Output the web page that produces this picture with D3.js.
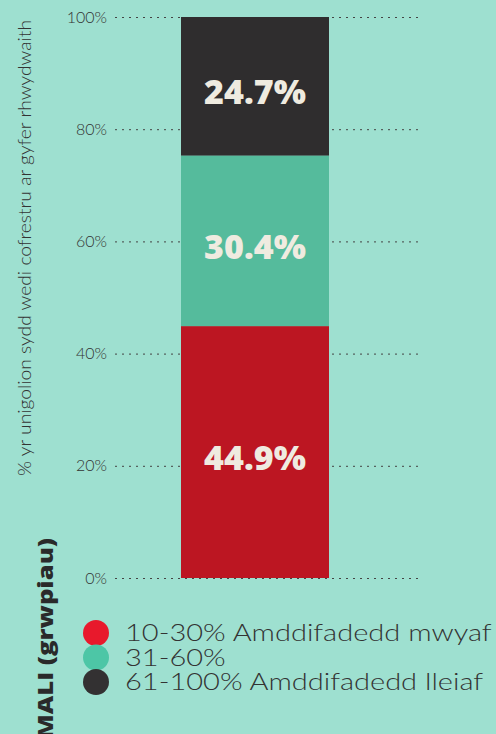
<!DOCTYPE html>
<html lang="cy">
<head>
<meta charset="UTF-8">
<title>MALI (grwpiau)</title>
<script src="https://d3js.org/d3.v7.min.js"></script>
<style>
  body { margin: 0; background: #9ee0d0; }
  svg { display: block; }
  .tick text { font-family: Lato, sans-serif; font-size: 16px; font-weight: 300; fill: #333; }
</style>
</head>
<body>
<svg width="496" height="734"></svg>
<script>
  // data
  const groups = ["10-30% Amddifadedd mwyaf", "31-60%", "61-100% Amddifadedd lleiaf"];
  const values = [44.9, 30.4, 24.7];
  const barColors = ["#bc1622", "#55bb9c", "#2f2d2e"];
  const dotColors = ["#e8192c", "#4dc6a6", "#333132"];
  const yTicks = [0, 20, 40, 60, 80, 100];

  const svg = d3.select("svg");
  const plotTop = 17, plotBottom = 578;
  const gridLeft = 115, gridRight = 421;

  const y = d3.scaleLinear().domain([0, 100]).range([plotBottom, plotTop]);
  const x = d3.scaleBand().domain(["all"]).range([181, 329]).padding(0);

  // gridlines + tick labels
  const axis = svg.append("g")
    .attr("transform", `translate(${gridLeft},0)`)
    .call(d3.axisLeft(y).tickValues(yTicks).tickFormat(d => d + "%").tickSize(0).tickPadding(8));
  axis.select(".domain").remove();
  axis.selectAll(".tick").append("line")
    .attr("x2", gridRight - gridLeft)
    .attr("stroke", "#444")
    .attr("stroke-width", 1)
    .attr("stroke-dasharray", "2,5");

  // stacked segments
  let cum = 0;
  const segs = values.map((v, i) => {
    const s = { v, i, y0: cum, y1: cum + v };
    cum += v;
    return s;
  });

  svg.append("g").selectAll("rect")
    .data(segs)
    .join("rect")
    .attr("x", x("all"))
    .attr("width", x.bandwidth())
    .attr("y", d => y(d.y1))
    .attr("height", d => y(d.y0) - y(d.y1))
    .attr("fill", d => barColors[d.i]);

  svg.append("g").selectAll("text")
    .data(segs)
    .join("text")
    .attr("x", x("all") + x.bandwidth() / 2)
    .attr("y", d => y((d.y0 + d.y1) / 2) + 5)
    .attr("text-anchor", "middle")
    .attr("dominant-baseline", "central")
    .attr("font-family", "'Open Sans', sans-serif")
    .attr("font-weight", 800)
    .attr("font-size", 34)
    .attr("fill", "#efebe0")
    .text(d => d.v.toFixed(1) + "%");

  // y axis title
  svg.append("text")
    .attr("transform", "translate(31,248) rotate(-90)")
    .attr("text-anchor", "middle")
    .attr("font-family", "Lato, sans-serif")
    .attr("font-weight", 300)
    .attr("font-size", 17)
    .attr("fill", "#333")
    .attr("textLength", 456)
    .attr("lengthAdjust", "spacingAndGlyphs")
    .text("% yr unigolion sydd wedi cofrestru ar gyfer rhwydwaith");

  // legend title
  svg.append("text")
    .attr("transform", "translate(53,739) rotate(-90)")
    .attr("font-family", "'Open Sans', sans-serif")
    .attr("font-weight", 800)
    .attr("font-size", 21)
    .attr("fill", "#2a2a2a")
    .attr("textLength", 201)
    .attr("lengthAdjust", "spacingAndGlyphs")
    .text("MALI (grwpiau)");

  // legend
  const leg = svg.append("g").selectAll("g")
    .data(groups)
    .join("g")
    .attr("transform", (d, i) => `translate(96,${633 + i * 24.5})`);
  leg.append("circle")
    .attr("r", 13)
    .attr("fill", (d, i) => dotColors[i]);
  const legText = leg.append("text")
    .attr("dy", "0.35em")
    .attr("font-family", "Lato, sans-serif")
    .attr("font-weight", 300)
    .attr("font-size", 24)
    .attr("fill", "#333")
    .text(d => d);
  // widen the legend font to match the wide rounded face of the original
  const natural = legText.node().getComputedTextLength();
  const sx = 367 / natural;
  legText.attr("transform", `translate(29,0) scale(${sx},1)`);
</script>
</body>
</html>
